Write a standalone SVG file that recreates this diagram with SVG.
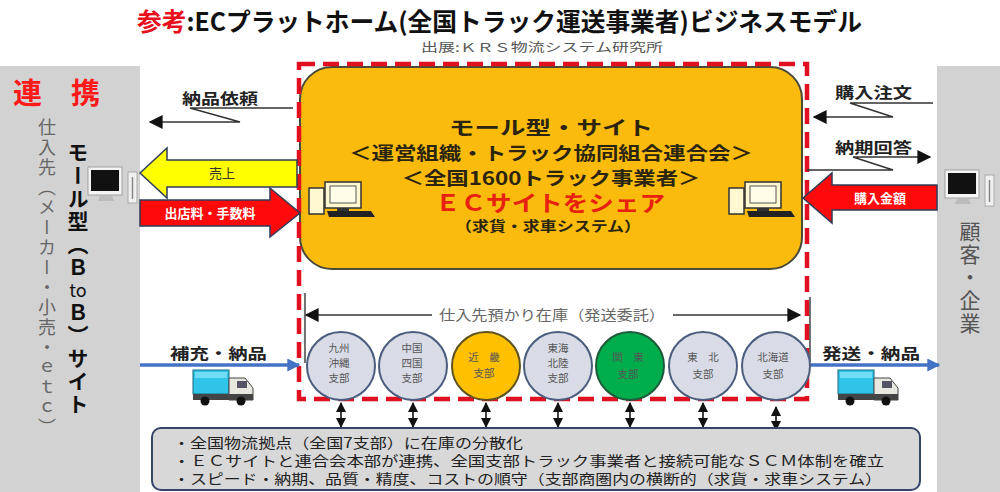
<svg xmlns="http://www.w3.org/2000/svg" width="1000" height="492" viewBox="0 0 1000 492">
<style>
text{font-family:"Noto Sans CJK JP","Noto Sans CJK SC",sans-serif;}
.panel{fill:#d2d2d2;}
.lbl{font-size:15px;font-weight:bold;fill:#222;}
.box{font-weight:bold;fill:#2a2410;text-anchor:middle;}
.vt{writing-mode:vertical-rl;}
.circ{fill:#d9dce6;stroke:#4b5c7e;stroke-width:2;}
.clbl{font-size:10.5px;fill:#555;text-anchor:middle;}
.zig{fill:none;stroke:#333;stroke-width:1.6;}
.dbl{fill:none;stroke:#111;stroke-width:1.6;}
.blue{fill:none;stroke:#4472c4;stroke-width:3.5;}
.red-frame{fill:none;stroke:#e01020;stroke-width:4.5;stroke-dasharray:16 8;}
.bt{font-size:14px;fill:#222;}
</style>
<defs>
<marker id="ah" viewBox="0 0 10 10" refX="9" refY="5" markerWidth="15" markerHeight="14" markerUnits="userSpaceOnUse" orient="auto-start-reverse"><path d="M0,0 L10,5 L0,10 z" fill="#111"/></marker>
<marker id="ahs" viewBox="0 0 10 10" refX="9" refY="5" markerWidth="10" markerHeight="10" markerUnits="userSpaceOnUse" orient="auto-start-reverse"><path d="M0,0 L10,5 L0,10 z" fill="#111"/></marker>
<marker id="ahb" viewBox="0 0 10 10" refX="9" refY="5" markerWidth="14" markerHeight="13" markerUnits="userSpaceOnUse" orient="auto"><path d="M0,0 L10,5 L0,10 z" fill="#4472c4"/></marker>
<g id="pcdark">
<rect x="0" y="0" width="34" height="28" fill="#f4f4f4" stroke="#a0a0a0" stroke-width="1"/>
<rect x="3" y="3" width="28" height="21" fill="#111"/>
<path d="M12,29 L24,29 L26,34 L10,34 z" fill="#bbb"/>
<rect x="40" y="5" width="9" height="31" fill="#f0f0f0" stroke="#aaa" stroke-width="1"/>
<line x1="44.5" y1="10" x2="44.5" y2="32" stroke="#888" stroke-width="1.5"/>
</g>
<g id="pccream">
<rect x="0" y="6" width="15" height="26" fill="#fff8d0" stroke="#333" stroke-width="1.5"/>
<rect x="16" y="0" width="36" height="26" fill="#fff8d0" stroke="#333" stroke-width="1.5"/>
<rect x="21" y="4" width="26" height="17" fill="#fffde8" stroke="#555" stroke-width="1"/>
<rect x="28" y="26" width="12" height="3" fill="#333"/>
<path d="M18,29 L62,29 L66,35 L20,35 z" fill="#222"/>
</g>
<g id="truck">
<rect x="0" y="0" width="36" height="24" fill="#30c4e8" stroke="#1a6a80" stroke-width="1"/>
<rect x="2" y="2" width="32" height="6" fill="#6fdcf4"/>
<path d="M36,8 L52,8 L60,18 L60,30 L36,30 z" fill="#e8e8e0" stroke="#444" stroke-width="1"/>
<rect x="44" y="11" width="10" height="7" fill="#556"/>
<rect x="0" y="24" width="60" height="6" fill="#444"/>
<circle cx="12" cy="31" r="4.5" fill="#111"/>
<circle cx="48" cy="31" r="4.5" fill="#111"/>
</g>
</defs>

<rect width="1000" height="492" fill="#fff"/>

<g id="title">
<text x="137" y="31" font-size="25" font-weight="bold" textLength="725" lengthAdjust="spacingAndGlyphs"><tspan fill="#e8101c">参考</tspan><tspan fill="#111">:ECプラットホーム(全国トラック運送事業者)ビジネスモデル</tspan></text>
<text x="421" y="52" font-size="12" fill="#555" textLength="242" lengthAdjust="spacingAndGlyphs">出展:ＫＲＳ物流システム研究所</text>
</g>

<g id="left-panel">
<rect class="panel" x="0" y="66" width="140" height="426"/>
<text x="13" y="104" font-size="29" font-weight="bold" fill="#ff1a1a">連</text>
<text x="71" y="104" font-size="29" font-weight="bold" fill="#ff1a1a">携</text>
<text class="vt" x="47" y="118" font-size="18" fill="#666" letter-spacing="2">仕入先（メーカー・小売・ｅｔｃ）</text>
<text class="vt" x="78" y="142" font-size="21" font-weight="bold" fill="#111" letter-spacing="2">モール型（Ｂ</text>
<text x="78" y="297" font-size="18" fill="#111" text-anchor="middle">to</text>
<text class="vt" x="78" y="302" font-size="21" font-weight="bold" fill="#111" letter-spacing="2">Ｂ）サイト</text>
<use href="#pcdark" x="88" y="167"/>
</g>

<g id="right-panel">
<rect class="panel" x="937" y="66" width="63" height="426"/>
<use href="#pcdark" x="945" y="170"/>
<text class="vt" x="970" y="221" font-size="21" fill="#555" letter-spacing="2">顧客・企業</text>
</g>

<g id="mall">
<rect x="300" y="67" width="502" height="202" rx="32" fill="#fbbb0c" stroke="#4a4a3a" stroke-width="2"/>
<text class="box" x="551" y="135" font-size="19" textLength="204" lengthAdjust="spacingAndGlyphs">モール型・サイト</text>
<text class="box" x="551" y="160" font-size="18" textLength="404" lengthAdjust="spacingAndGlyphs">＜運営組織・トラック協同組合連合会＞</text>
<text class="box" x="551" y="185" font-size="18" textLength="299" lengthAdjust="spacingAndGlyphs">＜全国1600トラック事業者＞</text>
<text x="550" y="211" font-size="22" font-weight="bold" fill="#e82010" text-anchor="middle" textLength="230" lengthAdjust="spacingAndGlyphs">ＥＣサイトをシェア</text>
<text class="box" x="548" y="231" font-size="14" textLength="186" lengthAdjust="spacingAndGlyphs">（求貨・求車システム）</text>
<use href="#pccream" x="309" y="182"/>
<use href="#pccream" x="729" y="182"/>
</g>

<g id="frame">
<rect class="red-frame" x="299" y="64" width="508" height="335"/>
</g>

<g id="connectors">
<path class="zig" d="M293,108 L190,108 L240,122 L150,122" marker-end="url(#ah)"/>
<text class="lbl" x="182" y="104" textLength="76" lengthAdjust="spacingAndGlyphs">納品依頼</text>
<path d="M140,173 L167,148 L167,160 L297,160 L297,187 L167,187 L167,198 z" fill="#ffff00" stroke="#2e3d5a" stroke-width="1.5"/>
<text x="222" y="178" font-size="13" fill="#333" text-anchor="middle">売上</text>
<path d="M140,200 L270,200 L270,188 L300,213 L270,237 L270,226 L140,226 z" fill="#ff0a0a" stroke="#2e3d5a" stroke-width="1.5"/>
<text x="210" y="218" font-size="13" font-weight="bold" fill="#fff" text-anchor="middle">出店料・手数料</text>
<path class="zig" d="M933,103 L850,103 L893,117 L814,117" marker-end="url(#ah)"/>
<text class="lbl" x="835" y="98" textLength="77" lengthAdjust="spacingAndGlyphs">購入注文</text>
<path class="zig" d="M807,170 L893,170 L853,157 L930,157" marker-end="url(#ah)"/>
<text class="lbl" x="835" y="153" textLength="77" lengthAdjust="spacingAndGlyphs">納期回答</text>
<path d="M803,198 L832,173 L832,185 L937,185 L937,210 L832,210 L832,223 z" fill="#ff0a0a" stroke="#2e3d5a" stroke-width="1.5"/>
<text x="880" y="203" font-size="13" font-weight="bold" fill="#fff" text-anchor="middle">購入金額</text>
<line class="blue" x1="140" y1="365" x2="299" y2="365" marker-end="url(#ahb)"/>
<text class="lbl" x="170" y="359" font-size="16" textLength="97" lengthAdjust="spacingAndGlyphs">補充・納品</text>
<use href="#truck" x="193" y="370"/>
<line class="blue" x1="808" y1="365" x2="939" y2="365" marker-end="url(#ahb)"/>
<text class="lbl" x="822" y="359" font-size="16" textLength="98" lengthAdjust="spacingAndGlyphs">発送・納品</text>
<use href="#truck" x="838" y="370"/>
<line x1="305" y1="293" x2="305" y2="363" stroke="#444" stroke-width="1.5"/>
<line x1="810" y1="297" x2="810" y2="362" stroke="#444" stroke-width="1.5"/>
<line class="zig" x1="432" y1="315" x2="306" y2="315" marker-end="url(#ah)"/>
<line class="zig" x1="673" y1="315" x2="800" y2="315" marker-end="url(#ah)"/>
<text x="552" y="320" font-size="14" fill="#666" text-anchor="middle" textLength="226" lengthAdjust="spacingAndGlyphs">仕入先預かり在庫（発送委託）</text>
<line class="dbl" x1="341" y1="403" x2="341" y2="427" marker-start="url(#ahs)" marker-end="url(#ahs)"/>
<line class="dbl" x1="413" y1="403" x2="413" y2="427" marker-start="url(#ahs)" marker-end="url(#ahs)"/>
<line class="dbl" x1="486" y1="403" x2="486" y2="427" marker-start="url(#ahs)" marker-end="url(#ahs)"/>
<line class="dbl" x1="558" y1="403" x2="558" y2="427" marker-start="url(#ahs)" marker-end="url(#ahs)"/>
<line class="dbl" x1="630" y1="403" x2="630" y2="427" marker-start="url(#ahs)" marker-end="url(#ahs)"/>
<line class="dbl" x1="703" y1="403" x2="703" y2="427" marker-start="url(#ahs)" marker-end="url(#ahs)"/>
<line class="dbl" x1="776" y1="407" x2="776" y2="430" marker-start="url(#ahs)" marker-end="url(#ahs)"/>
</g>

<g id="branch-kyushu"><circle class="circ" cx="341" cy="366" r="34"/>
<text class="clbl" x="339" y="352">九州</text><text class="clbl" x="339" y="367">沖縄</text><text class="clbl" x="339" y="382">支部</text></g>
<g id="branch-chugoku"><circle class="circ" cx="413" cy="366" r="34"/>
<text class="clbl" x="412" y="352">中国</text><text class="clbl" x="412" y="367">四国</text><text class="clbl" x="412" y="382">支部</text></g>
<g id="branch-kinki"><circle cx="486" cy="366" r="34" fill="#ffc000" stroke="#5e5220" stroke-width="2"/>
<text class="clbl" x="484" y="361" fill="#6a5a10">近　畿</text><text class="clbl" x="484" y="377" fill="#6a5a10">支部</text></g>
<g id="branch-tokai"><circle class="circ" cx="558" cy="366" r="34"/>
<text class="clbl" x="558" y="352">東海</text><text class="clbl" x="558" y="367">北陸</text><text class="clbl" x="558" y="382">支部</text></g>
<g id="branch-kanto"><circle cx="630" cy="366" r="34" fill="#00ad4c" stroke="#1f5a3a" stroke-width="2"/>
<text class="clbl" x="628" y="361" fill="#1f5030">関　東</text><text class="clbl" x="628" y="378" fill="#1f5030">支部</text></g>
<g id="branch-tohoku"><circle class="circ" cx="703" cy="366" r="34"/>
<text class="clbl" x="703" y="361">東　北</text><text class="clbl" x="703" y="378">支部</text></g>
<g id="branch-hokkaido"><circle class="circ" cx="776" cy="366" r="34"/>
<text class="clbl" x="773" y="361">北海道</text><text class="clbl" x="773" y="378">支部</text></g>

<g id="summary">
<rect x="152" y="428" width="768" height="62" rx="9" fill="#d8d8d8" stroke="#34446a" stroke-width="2"/>
<text class="bt" x="173" y="448" textLength="350" lengthAdjust="spacingAndGlyphs">・全国物流拠点（全国7支部）に在庫の分散化</text>
<text class="bt" x="173" y="466" textLength="711" lengthAdjust="spacingAndGlyphs">・ＥＣサイトと連合会本部が連携、全国支部トラック事業者と接続可能なＳＣＭ体制を確立</text>
<text class="bt" x="173" y="484" textLength="709" lengthAdjust="spacingAndGlyphs">・スピード・納期、品質・精度、コストの順守（支部商圏内の横断的（求貨・求車システム）</text>
</g>
</svg>
